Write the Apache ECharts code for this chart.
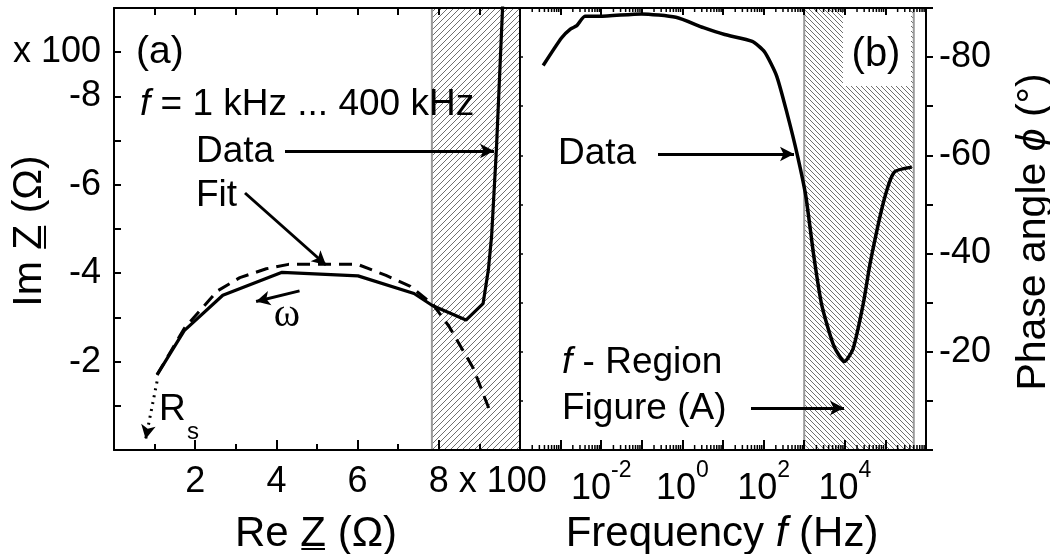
<!DOCTYPE html>
<html>
<head>
<meta charset="utf-8">
<script src="https://cdn.jsdelivr.net/npm/echarts@6/dist/echarts.min.js"></script>
<style>
  html, body { margin: 0; padding: 0; background: #fff; }
  #main { width: 1050px; height: 554px; }
</style>
</head>
<body>
<div id="main"></div>
<script>
// ---- data (a): Nyquist plot, both axes in units of 100 ohm ----
const dataRe = [1.06, 1.73, 2.68, 4.14, 6.01, 7.39, 7.84, 8.67, 9.09, 9.22, 9.30, 9.42, 9.57, 9.60];
const dataIm = [-1.70, -2.70, -3.50, -4.02, -3.94, -3.54, -3.27, -2.94, -3.31, -4.07, -4.83, -6.82, -9.99, -10.6];
const fitRe = [1.06, 1.73, 2.55, 3.10, 3.75, 4.30, 6.00, 6.70, 7.30, 7.85, 8.25, 8.85, 9.25];
const fitIm = [-1.70, -2.75, -3.60, -3.90, -4.10, -4.20, -4.20, -3.95, -3.70, -3.30, -2.80, -1.85, -0.90];

// ---- data (b): phase angle vs frequency ----
const freqHz = [3.72e-4, 1.05e-3, 1.74e-3, 2.51e-3, 3.98e-3, 9.12e-3, 0.0977, 0.692, 3.31, 11.0,
  52.5, 105, 209, 380, 676, 1096, 1710, 2690, 5370, 9770, 15850, 28200, 42700, 93300, 166000, 447000];
const phaseDeg = [-78.3, -83.9, -85.7, -86.4, -88.3, -88.3, -88.8, -88.1, -86.0, -84.6,
  -83.2, -81.1, -76.2, -68.5, -60.1, -51.7, -39.7, -29.6, -21.2, -18.0, -20.5, -29.6, -38.3, -51.0, -56.6, -57.6];

// shaded ranges (the 1 kHz ... 400 kHz window)
const nyqRegion = [7.83, 10];
const freqRegion = [1000, 5e5];

// tick labels
const imLabels = [-8, -6, -4, -2];
const reLabels = [2, 4, 6, 8];
const phaseLabels = [-80, -60, -40, -20];
const freqLabelExps = [-2, 0, 2, 4];
const minorMultipliers = [2, 3, 4, 5, 6, 7, 8, 9];
const decades = [-4, -3, -2, -1, 0, 1, 2, 3, 4, 5];

const FONT = '"Liberation Sans", Arial, sans-serif';
const black = '#000';

const chart = echarts.init(document.getElementById('main'), null, { renderer: 'canvas' });

const measureCtx = document.createElement('canvas').getContext('2d');
function textWidth(str, size) {
  measureCtx.font = size + 'px ' + FONT;
  return measureCtx.measureText(str).width;
}

function hatch(size, backslash) {
  const c = document.createElement('canvas');
  c.width = c.height = size;
  const g = c.getContext('2d');
  g.fillStyle = '#fff';
  g.fillRect(0, 0, size, size);
  g.strokeStyle = '#707070';
  g.lineWidth = 1;
  g.beginPath();
  if (!backslash) {
    g.moveTo(-1, size + 1); g.lineTo(size + 1, -1);
    g.moveTo(-1, 1); g.lineTo(1, -1);
    g.moveTo(size - 1, size + 1); g.lineTo(size + 1, size - 1);
  } else {
    g.moveTo(-1, -1); g.lineTo(size + 1, size + 1);
    g.moveTo(size - 1, -1); g.lineTo(size + 1, 1);
    g.moveTo(-1, size - 1); g.lineTo(1, size + 1);
  }
  g.stroke();
  return c;
}

function rich(size) {
  return {
    i: { fontStyle: 'italic', fontSize: size, fontFamily: FONT, fill: black, color: black },
    n: { fontSize: size, fontFamily: FONT, color: black }
  };
}

function txt(x, y, text, size, align, extra) {
  return {
    type: 'text', x: x, y: y, z: 10,
    style: Object.assign({
      text: text, fill: black, fontSize: size, fontFamily: FONT,
      align: align || 'left', verticalAlign: 'middle', rich: rich(size)
    }, extra || {})
  };
}

// axis title with underlined Z, optional rotation
function zTitle(x, y, text, pre, size, rotation) {
  const w = textWidth(text, size);
  const z0 = -w / 2 + textWidth(pre, size);
  const z1 = z0 + textWidth('Z', size);
  return {
    type: 'group', x: x, y: y, rotation: rotation || 0, z: 10,
    children: [
      { type: 'text', z: 10, style: { text: text, fill: black, fontSize: size, fontFamily: FONT, align: 'center', verticalAlign: 'middle' } },
      { type: 'line', z: 10, shape: { x1: z0 + 1, y1: 15, x2: z1 - 1, y2: 15 }, style: { stroke: black, lineWidth: 2 } }
    ]
  };
}

const minorTickFreqs = [];
decades.forEach(d => minorMultipliers.forEach(m => minorTickFreqs.push([m * Math.pow(10, d), 0])));

const tickLabelStyle = { fontSize: 36, fontFamily: FONT, color: black };
const axisLine = { onZero: false, lineStyle: { color: black, width: 2 } };

const arrowLine = (pts) => ({
  silent: true, symbol: ['none', 'arrow'], symbolSize: [11, 14],
  label: { show: false },
  lineStyle: { color: black, width: 3, type: 'solid' },
  data: pts
});

const option = {
  animation: false,
  backgroundColor: '#fff',
  grid: [
    { left: 114, top: 8, width: 406, height: 442 },
    { left: 520, top: 8, width: 406, height: 442 }
  ],
  xAxis: [
    {
      gridIndex: 0, type: 'value', min: 0, max: 10, interval: 2, position: 'bottom', z: 5,
      axisLine: axisLine,
      axisTick: { inside: true, length: 10, lineStyle: { color: black, width: 2 } },
      minorTick: { show: true, splitNumber: 2, length: 6, lineStyle: { color: black, width: 2 } },
      splitLine: { show: false }, minorSplitLine: { show: false },
      axisLabel: Object.assign({
        margin: 14,
        formatter: v => {
          if (!reLabels.includes(v)) return '';
          return v === 8 ? '{h| x 100}8 x 100' : String(v);
        },
        rich: { h: { color: 'rgba(0,0,0,0)', fontSize: 36, fontFamily: FONT } }
      }, tickLabelStyle)
    },
    {
      gridIndex: 0, type: 'value', min: 0, max: 10, interval: 1, position: 'top', z: 5,
      axisLine: axisLine,
      axisTick: { inside: true, length: 7, lineStyle: { color: black, width: 2 } },
      splitLine: { show: false }, axisLabel: { show: false }
    },
    {
      gridIndex: 1, type: 'log', logBase: 10, min: 1e-4, max: 1e6, interval: 1, position: 'bottom', z: 5,
      axisLine: axisLine,
      axisTick: { inside: true, length: 10, lineStyle: { color: black, width: 2 } },
      splitLine: { show: false },
      axisLabel: Object.assign({
        margin: 9,
        formatter: v => {
          const e = Math.round(Math.log10(v));
          return freqLabelExps.includes(e) ? '{b|10}{s|' + e + '}' : '';
        },
        rich: {
          b: { fontSize: 36, fontFamily: FONT, color: black, lineHeight: 60 },
          s: { fontSize: 23, fontFamily: FONT, color: black, verticalAlign: 'top' }
        }
      }, tickLabelStyle)
    },
    {
      gridIndex: 1, type: 'log', logBase: 10, min: 1e-4, max: 1e6, interval: 1, position: 'top', z: 5,
      axisLine: axisLine,
      axisTick: { inside: true, length: 7, lineStyle: { color: black, width: 2 } },
      splitLine: { show: false }, axisLabel: { show: false }
    }
  ],
  yAxis: [
    {
      gridIndex: 0, type: 'value', min: -10, max: 0, interval: 1, inverse: true, position: 'left', z: 5,
      axisLine: axisLine,
      axisTick: { inside: true, length: 7, lineStyle: { color: black, width: 2 } },
      splitLine: { show: false },
      axisLabel: Object.assign({
        margin: 13,
        formatter: v => v === -9 ? 'x 100' : (imLabels.includes(v) ? String(v) : '')
      }, tickLabelStyle)
    },
    {
      gridIndex: 1, type: 'value', min: -90, max: 0, interval: 10, inverse: true, position: 'left', z: 5,
      axisLine: axisLine,
      axisTick: { inside: true, length: 3, lineStyle: { color: black, width: 1.5 } },
      splitLine: { show: false }, axisLabel: { show: false }
    },
    {
      gridIndex: 1, type: 'value', min: -90, max: 0, interval: 10, inverse: true, position: 'right', z: 5,
      axisLine: axisLine,
      axisTick: { inside: false, length: 7, lineStyle: { color: black, width: 2 } },
      splitLine: { show: false },
      axisLabel: Object.assign({
        margin: 13,
        formatter: v => phaseLabels.includes(v) ? String(v) : ''
      }, tickLabelStyle)
    }
  ],
  series: [
    {
      name: 'region a', type: 'line', xAxisIndex: 0, yAxisIndex: 0, data: [], z: 1, silent: true,
      markArea: {
        silent: true,
        itemStyle: { color: { image: hatch(6, false), repeat: 'repeat' }, borderColor: '#9a9a9a', borderWidth: 2 },
        data: [[{ xAxis: nyqRegion[0] }, { xAxis: nyqRegion[1] }]]
      }
    },
    {
      name: 'region b', type: 'line', xAxisIndex: 2, yAxisIndex: 1, data: [], z: 1, silent: true,
      markArea: {
        silent: true,
        itemStyle: { color: { image: hatch(5, true), repeat: 'repeat' }, borderColor: '#9a9a9a', borderWidth: 2 },
        data: [[{ xAxis: freqRegion[0] }, { xAxis: freqRegion[1] }]]
      }
    },
    {
      name: 'Fit', type: 'line', xAxisIndex: 0, yAxisIndex: 0, z: 3,
      symbol: 'none', showSymbol: false,
      lineStyle: { color: black, width: 3, type: [13, 8] },
      data: fitRe.map((x, i) => [x, fitIm[i]])
    },
    {
      name: 'Data', type: 'line', xAxisIndex: 0, yAxisIndex: 0, z: 4,
      symbol: 'none', showSymbol: false,
      lineStyle: { color: black, width: 3.2 },
      data: dataRe.map((x, i) => [x, dataIm[i]]),
      markLine: arrowLine([
        [{ x: 285, y: 151 }, { x: 494, y: 151 }],
        [{ x: 245, y: 193 }, { x: 326, y: 265 }],
        [{ coord: [4.57, -3.60] }, { coord: [3.50, -3.36] }],
        [{ coord: [1.06, -1.55], lineStyle: { type: [2, 5], width: 3 } }, { coord: [0.78, -0.25] }]
      ])
    },
    {
      name: 'Phase', type: 'line', xAxisIndex: 2, yAxisIndex: 2, z: 4,
      symbol: 'none', showSymbol: false, smooth: 0.2,
      lineStyle: { color: black, width: 3.5 },
      data: freqHz.map((f, i) => [f, phaseDeg[i]]),
      markLine: arrowLine([
        [{ x: 658, y: 154 }, { x: 794, y: 154 }],
        [{ x: 751, y: 408 }, { x: 844, y: 408 }]
      ])
    },
    {
      name: 'minor ticks', type: 'custom', xAxisIndex: 2, yAxisIndex: 1, z: 5, silent: true,
      encode: { x: 0, y: 1 },
      data: minorTickFreqs,
      renderItem: (params, api) => {
        const b = api.coord([api.value(0), 0]);
        const t = api.coord([api.value(0), -90]);
        const st = { stroke: black, lineWidth: 1.5 };
        return {
          type: 'group',
          children: [
            { type: 'line', shape: { x1: b[0], y1: b[1], x2: b[0], y2: b[1] - 5 }, style: st },
            { type: 'line', shape: { x1: t[0], y1: t[1], x2: t[0], y2: t[1] + 4 }, style: st }
          ]
        };
      }
    }
  ],
  graphic: [
    { type: 'rect', z: 2, shape: { x: 843, y: 9, width: 68, height: 77 }, style: { fill: '#fff' } },
    txt(136, 52, '(a)', 39),
    txt(140, 105, '{i|f} = 1 kHz ... 400 kHz', 37),
    txt(196, 152, 'Data', 37),
    txt(196, 196, 'Fit', 37),
    txt(287, 315, 'ω', 40, 'center', { fontFamily: '"Liberation Serif", serif' }),
    txt(159, 410, 'R', 37),
    txt(187, 432, 's', 24),
    txt(876, 55, '(b)', 40, 'center'),
    txt(558, 154, 'Data', 37),
    txt(562, 363, '{i|f} - Region', 37),
    txt(562, 409, 'Figure (A)', 37),
    zTitle(316, 534, 'Re Z (Ω)', 'Re ', 42, 0),
    zTitle(30, 231, 'Im Z (Ω)', 'Im ', 41, Math.PI / 2),
    txt(722, 534, 'Frequency {i|f} (Hz)', 42, 'center'),
    {
      type: 'group', x: 1034, y: 232, rotation: Math.PI / 2, z: 10,
      children: [txt(0, 0, 'Phase angle {i|ϕ} (°)', 41, 'center')]
    }
  ]
};

chart.setOption(option);
</script>
</body>
</html>
